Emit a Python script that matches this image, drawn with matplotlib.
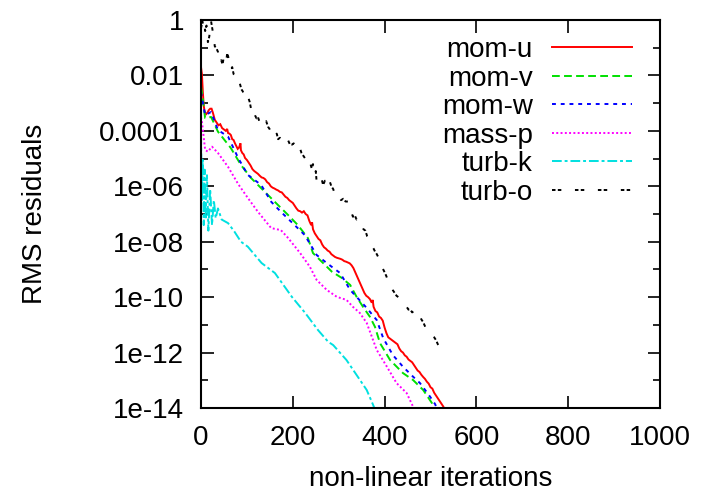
import numpy as np
import matplotlib
matplotlib.use("Agg")
import matplotlib.pyplot as plt
import matplotlib.transforms as mtransforms

plt.rcParams['font.family'] = ['Liberation Sans', 'DejaVu Sans']

# ---- data (iteration, log10 residual) ----
mom_u_it = [0, 2, 4, 6, 8, 11, 14, 17, 20, 23, 26, 30, 34, 38, 42, 46, 50, 54, 57, 59, 62, 65, 68,
            71, 74, 77, 80, 83, 86, 87, 90, 93, 96, 100, 104, 108, 112, 116, 120, 124, 128, 132,
            136, 140, 144, 148, 152, 156, 160, 164, 168, 172, 176, 180, 184, 188, 192, 196, 200,
            204, 208, 212, 216, 220, 224, 228, 232, 236, 240, 242, 244, 248, 252, 256, 260, 264,
            268, 272, 276, 280, 284, 288, 292, 296, 300, 304, 308, 312, 316, 320, 324, 328, 332,
            336, 340, 344, 348, 352, 356, 360, 364, 368, 372, 374, 376, 380, 384, 388, 392, 396,
            400, 404, 408, 412, 416, 420, 424, 428, 432, 436, 440, 444, 448, 452, 456, 460, 464,
            468, 472, 476, 480, 484, 488, 492, 496, 500, 504, 508, 512, 516, 520, 524, 528, 532]
mom_u_lg = [-1.7, -1.95, -2.6, -3.1, -3.3, -3.4, -3.35, -3.25, -3.2, -3.2, -3.35, -3.6, -3.7, -3.8,
            -3.76, -3.9, -3.95, -4.0, -3.93, -4.08, -4.1, -4.15, -4.3, -4.33, -4.45, -4.55, -4.65,
            -4.6, -4.45, -4.7, -4.8, -4.85, -4.98, -5.05, -5.15, -5.25, -5.38, -5.45, -5.5, -5.55,
            -5.62, -5.68, -5.7, -5.75, -5.85, -5.9, -6.0, -6.05, -6.08, -6.12, -6.15, -6.2, -6.22,
            -6.3, -6.38, -6.42, -6.5, -6.55, -6.6, -6.7, -6.8, -6.88, -6.9, -6.95, -6.9, -7.0,
            -7.05, -7.25, -7.4, -7.3, -7.55, -7.7, -7.8, -7.9, -7.95, -8.1, -8.2, -8.25, -8.32,
            -8.36, -8.45, -8.5, -8.55, -8.58, -8.6, -8.62, -8.65, -8.7, -8.72, -8.75, -8.78, -8.85,
            -8.95, -9.1, -9.25, -9.4, -9.55, -9.7, -9.85, -9.95, -10.0, -10.07, -10.2, -10.1,
            -10.35, -10.5, -10.55, -10.7, -10.75, -10.85, -11.1, -11.3, -11.45, -11.5, -11.55,
            -11.6, -11.65, -11.7, -11.85, -11.95, -12.0, -12.1, -12.15, -12.25, -12.3, -12.35,
            -12.45, -12.55, -12.65, -12.7, -12.8, -12.88, -12.95, -13.05, -13.12, -13.25, -13.3,
            -13.45, -13.55, -13.65, -13.75, -13.85, -13.95, -14.1]

mom_v_it = [0, 3, 9, 22, 37, 65, 87, 109, 139, 168, 190, 211, 233, 244, 266, 285, 307, 325, 339,
            353, 368, 379, 390, 412, 440, 462, 484, 503, 510]
mom_v_lg = [-2.4, -2.71, -3.54, -3.50, -4.03, -4.62, -5.23, -5.70, -6.20, -6.68, -7.04, -7.40, -7.87,
            -8.41, -8.77, -9.08, -9.31, -9.56, -9.99, -10.35, -10.71, -11.07, -11.66, -12.27, -12.74,
            -12.99, -13.35, -13.82, -14.1]

mom_w_it = [0, 3, 9, 22, 37, 59, 81, 102, 131, 153, 174, 204, 226, 252, 274, 303, 325, 361, 383,
            397, 418, 440, 462, 477, 499, 510, 516]
mom_w_lg = [-2.6, -2.89, -3.43, -3.32, -3.97, -4.21, -4.98, -5.59, -5.95, -6.56, -6.92, -7.40, -7.76,
            -8.48, -8.77, -9.13, -9.74, -10.39, -10.83, -11.48, -12.09, -12.51, -12.87, -13.10,
            -13.59, -13.86, -14.1]

mass_p_it = [0, 3, 9, 15, 24, 37, 59, 81, 102, 124, 153, 174, 190, 216, 237, 252, 274, 296, 317,
             331, 346, 361, 383, 405, 426, 448, 462, 466]
mass_p_lg = [-3.5, -3.79, -4.69, -4.75, -4.57, -4.80, -5.30, -5.92, -6.42, -6.92, -7.51, -7.58,
             -7.87, -8.41, -8.90, -9.38, -9.74, -9.99, -10.10, -10.35, -10.57, -10.93, -11.91,
             -12.51, -13.10, -13.46, -13.95, -14.1]

turb_k_it = [0, 2, 4, 6, 8, 10, 13, 16, 20, 24, 28, 32, 37, 45, 59, 73, 87, 102, 132, 161, 198,
             227, 255, 277, 288, 317, 339, 361, 375, 380]
turb_k_lg = [-4.15, -6.5, -5.05, -7.4, -5.4, -7.2, -5.6, -7.6, -6.1, -7.4, -6.5, -7.15, -6.8, -7.2,
             -7.33, -7.64, -8.0, -8.18, -8.77, -9.13, -9.99, -10.57, -11.19, -11.61, -11.73, -12.27,
             -12.81, -13.35, -13.89, -14.1]

turb_o_it = [0, 3, 5, 7, 9, 12, 15, 18, 20, 22, 24, 26, 28, 30, 33, 37, 39, 41, 44, 47, 50, 52, 55,
             57, 59, 62, 65, 68, 71, 74, 77, 81, 84, 88, 92, 96, 100, 103, 106, 109, 112, 115, 118,
             121, 124, 127, 130, 133, 137, 140, 142, 146, 150, 154, 158, 162, 165, 168, 172, 176,
             181, 186, 190, 194, 198, 202, 206, 211, 215, 219, 223, 227, 230, 234, 237, 241, 244,
             247, 250, 252, 256, 260, 263, 266, 270, 274, 278, 281, 284, 288, 292, 296, 300, 305,
             310, 315, 320, 324, 328, 331, 335, 339, 343, 346, 350, 354, 358, 362, 365, 368, 372,
             376, 379, 383, 386, 390, 393, 397, 400, 404, 407, 411, 414, 418, 422, 426, 430, 434,
             437, 440, 444, 448, 452, 456, 460, 464, 468, 472, 476, 480, 484, 488, 492, 496, 500,
             504, 508, 512, 516, 520, 524]
turb_o_lg = [-0.3, -0.05, -0.25, -0.1, -0.4, -0.2, -0.8, -0.6, -0.3, -0.05, -0.25, -0.45, -0.6,
             -0.95, -1.0, -1.15, -1.35, -1.55, -1.45, -1.6, -1.3, -1.35, -1.5, -1.2, -1.3, -1.55,
             -1.8, -1.7, -1.95, -2.0, -2.1, -2.3, -2.25, -2.5, -2.6, -2.65, -2.9, -2.8, -2.95, -3.2,
             -3.1, -3.3, -3.45, -3.55, -3.5, -3.65, -3.55, -3.65, -3.6, -3.7, -3.65, -3.85, -3.95,
             -4.1, -4.05, -4.2, -4.1, -4.3, -4.25, -4.35, -4.3, -4.45, -4.35, -4.5, -4.5, -4.45,
             -4.65, -4.7, -4.6, -4.8, -4.9, -5.0, -5.05, -5.2, -5.1, -5.35, -5.2, -5.6, -5.45,
             -5.85, -5.8, -5.9, -5.75, -5.95, -5.8, -5.9, -5.7, -5.85, -6.0, -6.1, -6.3, -6.4,
             -6.35, -6.5, -6.45, -6.55, -6.55, -6.75, -6.95, -7.1, -7.05, -7.2, -7.15, -7.3, -7.4,
             -7.55, -7.6, -7.8, -7.85, -8.05, -8.15, -8.25, -8.35, -8.45, -8.55, -8.75, -8.85,
             -9.0, -9.1, -9.25, -9.4, -9.5, -9.6, -9.75, -9.85, -9.95, -10.0, -10.1, -10.15,
             -10.2, -10.3, -10.35, -10.45, -10.45, -10.55, -10.5, -10.6, -10.65, -10.6, -10.8,
             -10.9, -11.05, -11.2, -11.25, -11.3, -11.4, -11.45, -11.55, -11.7, -11.8, -11.95]

labels = ['mom-u', 'mom-v', 'mom-w', 'mass-p', 'turb-k', 'turb-o']
series_it = [mom_u_it, mom_v_it, mom_w_it, mass_p_it, turb_k_it, turb_o_it]
series_lg = [mom_u_lg, mom_v_lg, mom_w_lg, mass_p_lg, turb_k_lg, turb_o_lg]
colors = ['#ff0000', '#00e000', '#0000ff', '#ff00ff', '#00e0e0', '#000000']
dashes = [None, (4, 2.2), (2, 2.5), (1, 1.2), (5, 1.5, 1.5, 1.5), (1.8, 1.2, 1.8, 7)]

xticks = [0, 200, 400, 600, 800, 1000]
yticks_exp = [0, -2, -4, -6, -8, -10, -12, -14]
ytick_labels = ['1', '0.01', '0.0001', '1e-06', '1e-08', '1e-10', '1e-12', '1e-14']

fig = plt.figure(figsize=(7.1, 4.95), dpi=100)
ax = fig.add_axes([201/710, 1-408/495, 459/710, 388/495])

lw = 1.4
for it, lg, c, d in zip(series_it, series_lg, colors, dashes):
    y = 10.0 ** np.array(lg)
    line, = ax.plot(it, y, color=c, lw=lw, solid_joinstyle='miter')
    if d is not None:
        line.set_dashes(d)

ax.set_yscale('log')
ax.set_xlim(0, 1000)
ax.set_ylim(1e-14, 1)
ax.set_xticks(xticks)
ax.set_xticklabels([str(v) for v in xticks])
ax.set_yticks([10.0**e for e in yticks_exp])
ax.set_yticklabels(ytick_labels)
ax.set_yticks([10.0**e for e in range(-13, 0, 2)], minor=True)
ax.yaxis.set_minor_formatter(matplotlib.ticker.NullFormatter())
ax.tick_params(axis='both', which='major', direction='in', length=9, width=1.2,
               top=True, right=True, labelsize=20)
ax.tick_params(axis='x', which='major', pad=12)
ax.tick_params(axis='y', which='major', pad=12)
ax.tick_params(axis='y', which='minor', direction='in', length=5, width=1.2, right=True)
ax.tick_params(axis='x', which='minor', bottom=False, top=False)
for s in ax.spines.values():
    s.set_linewidth(1.5)

ax.set_xlabel('non-linear iterations', fontsize=20, labelpad=11)
ax.set_ylabel('RMS residuals', fontsize=20, labelpad=37)

# legend (gnuplot style: right-aligned text, sample to the right)
row_y = [0.930, 0.856, 0.783, 0.709, 0.636, 0.562]
for lab, c, d, yy in zip(labels, colors, dashes, row_y):
    tr = mtransforms.offset_copy(ax.transAxes, fig=fig, x=0, y=-10, units='dots')
    ax.text(0.723, yy, lab, transform=tr, ha='right', va='baseline', fontsize=20)
    l, = ax.plot([0.765, 0.939], [yy, yy], transform=ax.transAxes, color=c, lw=lw)
    if d is not None:
        l.set_dashes(d)

fig.savefig('out.png', dpi=100)
